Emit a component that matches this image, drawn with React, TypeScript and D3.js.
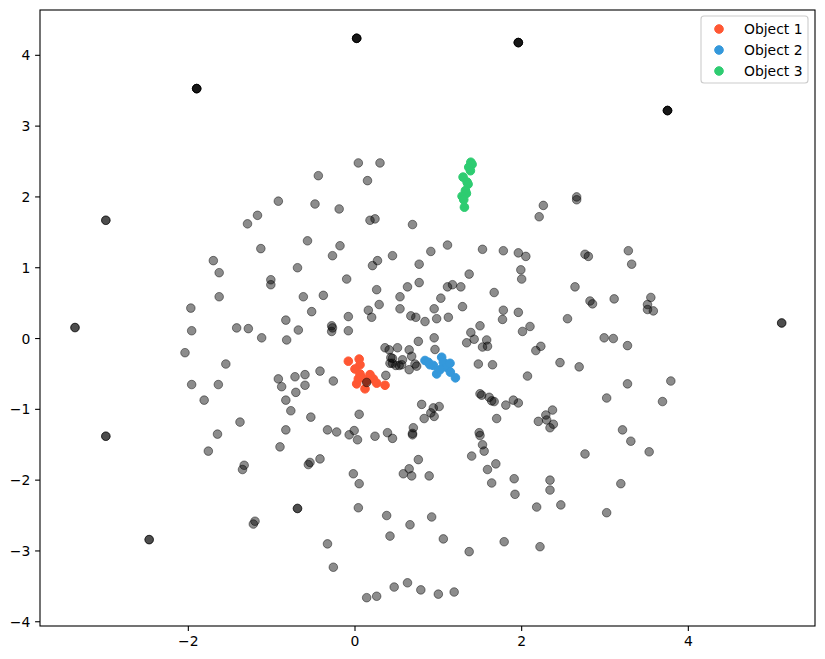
import React from "react";
import * as d3 from "d3";

type P = [number, number];

const object1: P[] = [
  [-0.08, -0.32], [0.05, -0.29], [0.06, -0.37], [0.0, -0.43], [0.06, -0.5], [0.08, -0.55],
  [0.18, -0.51], [0.22, -0.57], [0.02, -0.64], [0.12, -0.71], [0.26, -0.63], [0.36, -0.66],
  [0.14, -0.6], [0.04, -0.57],
];
const object2: P[] = [
  [0.84, -0.31], [0.88, -0.335], [0.94, -0.38], [0.98, -0.5], [1.04, -0.264], [1.06, -0.335],
  [1.1, -0.405], [1.14, -0.35], [1.145, -0.475], [1.205, -0.555], [1.02, -0.44], [0.9, -0.37],
];
const object3: P[] = [
  [1.39, 2.49], [1.405, 2.46], [1.365, 2.42], [1.385, 2.37], [1.297, 2.28], [1.345, 2.21],
  [1.357, 2.18], [1.325, 2.09], [1.337, 2.05], [1.285, 2.01], [1.305, 1.96], [1.313, 1.855],
];

const background: P[] = [
  [-0.92, 1.94], [-1.17, 1.74], [-1.29, 1.62], [0.04, 2.48], [0.3, 2.48], [-0.44, 2.3], [0.15, 2.23],
  [-0.48, 1.9], [-0.19, 1.83], [2.26, 1.88], [2.21, 1.72], [0.18, 1.67], [0.24, 1.69], [2.66, 2.0], [2.66, 1.96],
  [-1.13, 1.27], [-1.7, 1.1], [-1.63, 0.93], [-0.69, 1.0], [-1.01, 0.83], [-1.01, 0.76], [-1.63, 0.59],
  [-0.62, 0.59], [-1.97, 0.43], [-0.83, 0.26], [-0.68, 0.12], [-1.96, 0.11], [-1.42, 0.15], [-1.28, 0.14],
  [-1.12, 0.01], [-0.82, -0.02], [-2.04, -0.2], [-1.55, -0.36], [-1.96, -0.65], [-1.64, -0.65], [-0.92, -0.57],
  [-0.88, -0.68], [-0.72, -0.54], [-0.71, -0.76], [-1.81, -0.87], [-0.83, -0.87], [-0.77, -1.02], [-1.38, -1.18],
  [0.69, 1.61], [-0.57, 1.38], [-0.18, 1.31], [-0.27, 1.17], [0.21, 1.03], [0.27, 1.1], [0.45, 1.17],
  [0.91, 1.23], [1.11, 1.32], [0.77, 1.05], [1.53, 1.26], [1.78, 1.24], [1.96, 1.21], [2.05, 1.16],
  [1.99, 0.97], [2.0, 0.84], [1.37, 0.91], [-0.1, 0.84], [0.77, 0.79], [0.63, 0.73], [1.11, 0.73],
  [1.17, 0.76], [1.27, 0.73], [0.26, 0.69], [-0.38, 0.61], [0.54, 0.59], [1.03, 0.57], [1.67, 0.65],
  [0.29, 0.48], [0.54, 0.42], [0.95, 0.42], [1.29, 0.45], [1.78, 0.4], [1.96, 0.37], [0.16, 0.4],
  [0.2, 0.3], [-0.08, 0.31], [-0.52, 0.38], [0.67, 0.32], [0.73, 0.3], [0.84, 0.24], [0.98, 0.28],
  [1.12, 0.3], [1.77, 0.27], [-0.28, 0.18], [-0.27, 0.15], [-0.28, 0.1], [-0.08, 0.11], [1.5, 0.18],
  [2.01, 0.1], [2.1, 0.17], [1.39, 0.085], [1.43, -0.01], [1.34, -0.06], [1.58, -0.02], [1.53, -0.12],
  [1.59, -0.11], [0.95, 0.01], [0.76, -0.04], [0.96, -0.155], [2.23, -0.11], [2.17, -0.17], [0.36, -0.13],
  [0.41, -0.16], [0.51, -0.13], [0.65, -0.16], [0.68, -0.25], [0.43, -0.27], [0.45, -0.28], [0.42, -0.35],
  [0.57, -0.3], [0.56, -0.37], [0.53, -0.38], [0.45, -0.35], [0.49, -0.38], [0.65, -0.44], [0.72, -0.36],
  [0.74, -0.39], [1.48, -0.36], [1.65, -0.37], [2.07, -0.53], [0.37, -0.52], [-0.42, -0.46], [-0.6, -0.51],
  [-0.6, -0.66], [-0.26, -0.6], [0.14, -0.62], [1.5, -0.78], [1.52, -0.8], [1.61, -0.83], [1.64, -0.88],
  [1.67, -0.89], [1.81, -0.94], [1.9, -0.87], [1.96, -0.91], [0.8, -0.93], [0.94, -0.98], [1.01, -0.96],
  [0.91, -1.05], [0.95, -1.1], [0.05, -1.07], [-0.53, -1.11], [0.83, -1.13], [1.7, -1.13], [2.2, -1.17],
  [2.29, -1.08], [2.37, -1.01], [2.3, -1.15], [2.34, -1.26], [2.38, -1.21],
  [2.76, 1.19], [2.8, 1.16], [3.28, 1.24], [3.32, 1.05], [2.64, 0.73], [2.82, 0.53], [2.85, 0.49],
  [3.11, 0.56], [3.55, 0.58], [3.51, 0.48], [3.51, 0.41], [3.58, 0.39], [2.55, 0.28], [2.99, 0.01],
  [3.1, 0.0], [3.27, -0.1], [2.46, -0.34], [2.69, -0.4], [3.27, -0.64], [3.79, -0.6], [3.02, -0.84],
  [3.69, -0.89],
  [-1.65, -1.35], [-0.83, -1.29], [-1.76, -1.59], [-0.9, -1.53], [-1.33, -1.79], [-1.35, -1.85],
  [-1.22, -2.62], [-1.2, -2.58],
  [-0.33, -1.29], [-0.22, -1.32], [-0.07, -1.36], [-0.01, -1.3], [0.03, -1.43], [0.24, -1.38], [0.39, -1.33],
  [0.45, -1.41], [0.7, -1.26], [0.69, -1.34], [0.69, -1.36], [1.49, -1.33], [1.5, -1.37], [1.53, -1.5],
  [1.55, -1.59], [1.4, -1.66], [1.69, -1.77], [1.59, -1.85], [1.64, -2.04], [1.91, -1.98], [1.92, -2.2],
  [2.34, -2.0], [2.34, -2.14], [2.18, -2.38], [2.22, -2.94], [1.79, -2.87], [1.37, -3.01], [1.06, -2.83],
  [0.92, -2.52], [0.66, -2.63], [0.38, -2.5], [0.42, -2.79], [0.76, -1.71], [0.65, -1.84], [0.58, -1.91],
  [0.68, -1.94], [0.89, -1.94], [-0.02, -1.91], [0.05, -2.05], [0.04, -2.39], [-0.42, -1.7], [-0.56, -1.78],
  [-0.54, -1.75], [-0.33, -2.9], [-0.26, -3.23], [0.14, -3.66], [0.26, -3.64], [0.47, -3.51], [0.63, -3.45],
  [0.79, -3.55], [1.0, -3.61], [1.19, -3.58],
  [3.21, -1.29], [3.31, -1.45], [3.53, -1.6], [2.76, -1.63], [3.19, -2.05], [2.47, -2.35], [3.02, -2.46],
];

// outliers drawn with stacked translucent markers
const outliersDark: P[] = [[0.02, 4.24], [1.96, 4.18], [-1.9, 3.53], [3.75, 3.22]];
const outliersMid: P[] = [[-2.99, 1.67], [-3.36, 0.155], [5.12, 0.22], [-2.99, -1.38], [-2.47, -2.84], [-0.69, -2.4]];

const xTicks = [-2, 0, 2, 4];
const yTicks = [-4, -3, -2, -1, 0, 1, 2, 3, 4];
const legendLabels = ["Object 1", "Object 2", "Object 3"];
const colors = ["#FF5733", "#3498DB", "#2ECC71"];

const W = 825, H = 659;
const L = 40, R = 815, T = 10, B = 626;

export default function App() {
  const x = d3.scaleLinear().domain([-3.78, 5.52]).range([L, R]);
  const y = d3.scaleLinear().domain([-4.06, 4.64]).range([B, T]);
  const r = 4.3;
  const sw = 1.0;
  const font = "'DejaVu Sans', sans-serif";
  const fmt = (v: number) => (v < 0 ? "\u2212" + Math.abs(v) : String(v));
  const groups = [object1, object2, object3];

  const grey = (p: P, k: string) => (
    <circle key={k} cx={x(p[0])} cy={y(p[1])} r={r} fill="#000" fillOpacity={0.45}
      stroke="#000" strokeOpacity={0.45} strokeWidth={sw} />
  );

  return (
    <svg width={W} height={H} style={{ position: "absolute", left: 0, top: 0 }} fontFamily={font}>
      <rect x={0} y={0} width={W} height={H} fill="#fff" />
      <defs>
        <clipPath id="plot"><rect x={L} y={T} width={R - L} height={B - T} /></clipPath>
      </defs>
      <g clipPath="url(#plot)">
        {groups.map((g, gi) => g.map((p, i) => (
          <circle key={`o${gi}-${i}`} cx={x(p[0])} cy={y(p[1])} r={r} fill={colors[gi]}
            stroke={colors[gi]} strokeWidth={sw} />
        )))}
        {background.map((p, i) => grey(p, `b${i}`))}
        {[0, 1].map(c => outliersMid.map((p, i) => grey(p, `m${c}-${i}`)))}
        {[0, 1, 2, 3].map(c => outliersDark.map((p, i) => grey(p, `d${c}-${i}`)))}
      </g>
      <rect x={L} y={T} width={R - L} height={B - T} fill="none" stroke="#000" strokeWidth={1.1} />
      {xTicks.map(t => (
        <g key={`x${t}`}>
          <line x1={x(t)} x2={x(t)} y1={B} y2={B + 4.9} stroke="#000" strokeWidth={1.1} />
          <text x={x(t)} y={B + 9.7} dy="0.76em" textAnchor="middle" fontSize={13.9} fill="#000">{fmt(t)}</text>
        </g>
      ))}
      {yTicks.map(t => (
        <g key={`y${t}`}>
          <line x1={L - 4.9} x2={L} y1={y(t)} y2={y(t)} stroke="#000" strokeWidth={1.1} />
          <text x={L - 9.7} y={y(t)} dy="0.36em" textAnchor="end" fontSize={13.9} fill="#000">{fmt(t)}</text>
        </g>
      ))}
      <g>
        <rect x={701} y={16} width={107} height={67} rx={3} fill="#fff" fillOpacity={0.8} stroke="#ccc" strokeWidth={1.1} />
        {legendLabels.map((lab, i) => (
          <g key={lab}>
            <circle cx={719} cy={29 + i * 21} r={r} fill={colors[i]} stroke={colors[i]} strokeWidth={sw} />
            <text x={744} y={29 + i * 21} dy="0.36em" fontSize={13.9} fill="#000">{lab}</text>
          </g>
        ))}
      </g>
    </svg>
  );
}
